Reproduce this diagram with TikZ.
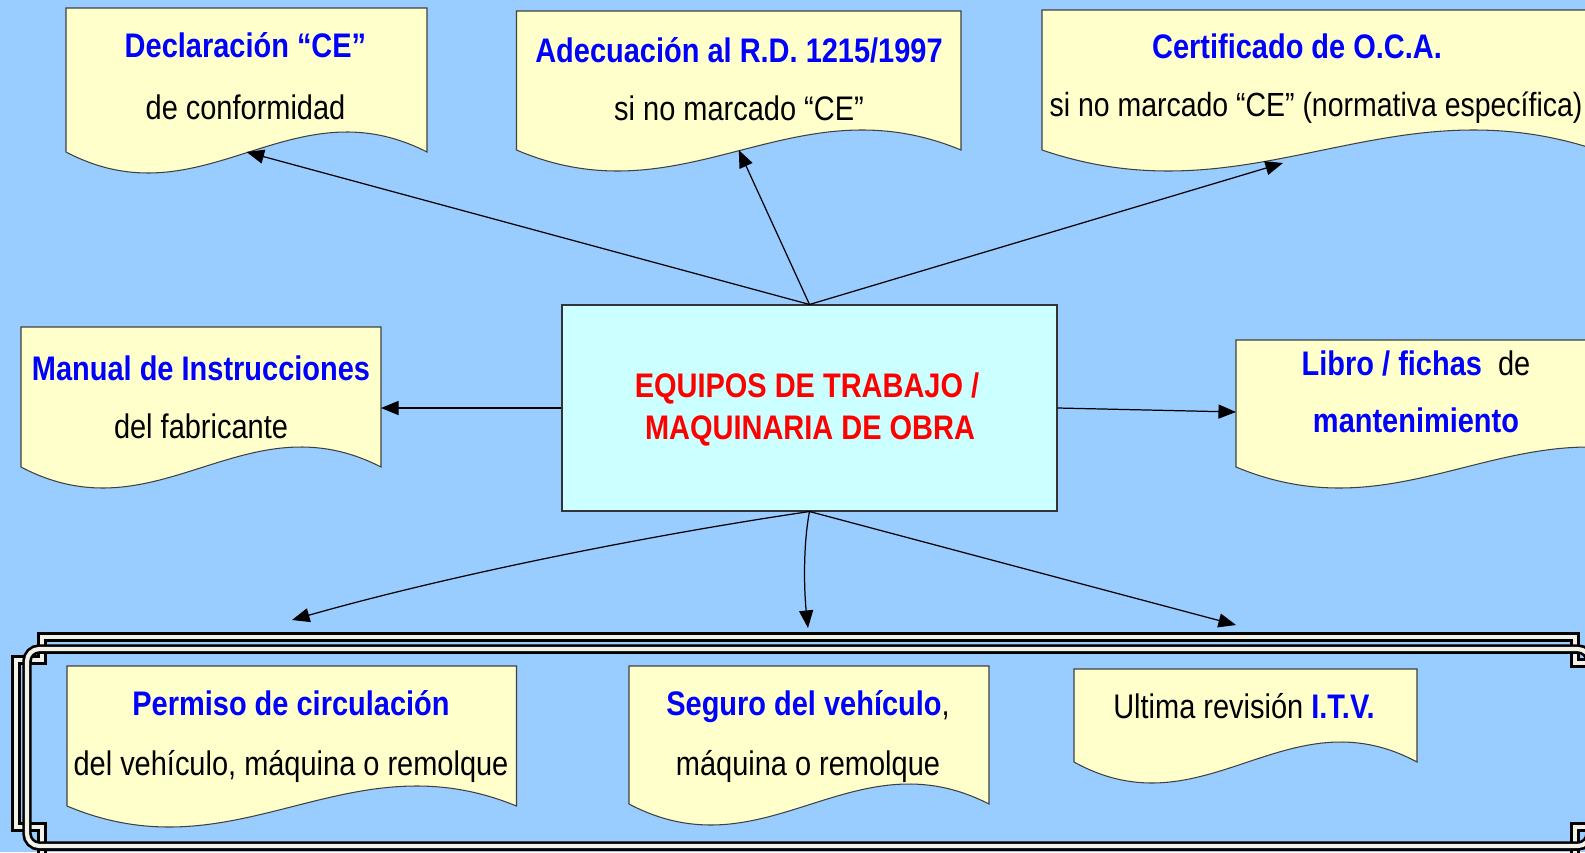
\documentclass[tikz,border=0pt]{standalone}
\usepackage{fontspec}
\setmainfont{Liberation Sans}[FakeStretch=0.85]
\usetikzlibrary{arrows.meta,calc,fit}
\definecolor{bg}{HTML}{99CCFF}
\definecolor{docy}{HTML}{FFFFCC}
\definecolor{cboxc}{HTML}{CCFFFF}
\definecolor{tblue}{HTML}{0000FF}
\definecolor{tred}{HTML}{FF0000}
\definecolor{fwhite}{HTML}{F2F2EA}
\newcommand\fs{\fontsize{19.4pt}{23pt}\selectfont}
\newcommand\docshape[5]{%
  \node[fit={(#2,#3) (#4,#5)}, inner sep=0pt, outer sep=0pt] (#1) {};
  \draw[docline] (#1.south west) -- (#1.north west) -- (#1.north east) -- (#1.south east)
    .. controls ($(#1.south west)!0.62!(#1.south east)+(0,-70)$) and ($(#1.south west)!0.38!(#1.south east)+(0,72)$) .. (#1.south west) -- cycle;
}
\tikzset{
  docline/.style={draw=black!75, fill=docy, line width=0.6pt},
  centerbox/.style={draw=black!80, fill=cboxc, line width=0.6pt, inner sep=0pt},
  conn/.style={draw=black, line width=0.7pt, -{Triangle[length=10pt,width=8pt]}},
  frameline/.style={draw=black, line width=1.5pt, double=fwhite, double distance=2.4pt},
  txt/.style={font=\fs, inner sep=0pt, anchor=base, text=black},
  btxt/.style={font=\fs\bfseries, inner sep=0pt, anchor=base, text=tblue},
  rtxt/.style={font=\fs\bfseries, inner sep=0pt, anchor=base, text=tred}
}
\begin{document}
\begin{tikzpicture}[x=0.02cm, y=-0.02cm]
\useasboundingbox (0,0) rectangle (1585,852);
\clip (0,0) rectangle (1585,852);
\fill[bg] (0,0) rectangle (1585,852);

% frame around bottom group
\draw[frameline] (16,660) -- (42,660) -- (42,637) -- (1575,637) -- (1575,663) -- (1601,663)
  -- (1601,827) -- (1575,827) -- (1575,860) -- (42,860) -- (42,827) -- (16,827) -- cycle;
\draw[frameline, rounded corners=7pt] (27,649) rectangle (1590,846);

% document shapes
\docshape{d1}{66}{8}{427}{152}
\docshape{d2}{516.5}{11}{961}{150}
\docshape{d3}{1042}{10}{1597}{150}
\docshape{d4}{21}{327}{381}{467}
\docshape{d5}{1236}{340}{1690}{467}
\docshape{d6}{67}{666}{516.5}{806}
\docshape{d7}{629}{666}{989}{804}
\docshape{d8}{1074}{669}{1417}{762}

% central box
\node[centerbox, fit={(562,305) (1057,511)}] (c) {};
\node[rtxt] (c1) at (807,397) {EQUIPOS DE TRABAJO /};
\node[rtxt] (c2) at (810,439) {MAQUINARIA DE OBRA};

% texts
\node[btxt] (t1a) at (245.5,57) {Declaración “CE”};
\node[txt]  (t1b) at (245.5,119) {de conformidad};
\node[btxt] (t2a) at (739,62) {Adecuación al R.D. 1215/1997};
\node[txt]  (t2b) at (739,120) {si no marcado “CE”};
\node[btxt] (t3a) at (1297,58) {Certificado de O.C.A.};
\node[txt, font=\fontsize{19.05pt}{23pt}\selectfont]  (t3b) at (1316,116) {si no marcado “CE” (normativa específica)};
\node[btxt] (t4a) at (201,380) {Manual de Instrucciones};
\node[txt]  (t4b) at (201,438) {del fabricante};
\node[txt]  (t5a) at (1416,375) {\textbf{\color{tblue}Libro / fichas}\ \ de};
\node[btxt] (t5b) at (1416,432) {mantenimiento};
\node[btxt] (t6a) at (291,715) {Permiso de circulación};
\node[txt]  (t6b) at (291,775) {del vehículo, máquina o remolque};
\node[txt]  (t7a) at (808,715) {\textbf{\color{tblue}Seguro del vehículo},};
\node[txt]  (t7b) at (808,775) {máquina o remolque};
\node[txt]  (t8a) at (1244,718) {Ultima revisión \textbf{\color{tblue}I.T.V.}};

% connector end points
\coordinate (e3) at (1283,163);
\coordinate (e5) at (1236,412);
\coordinate (e6) at (292,620);
\coordinate (e7) at (808,628);
\coordinate (e8) at (1236,625);

% connectors
\draw[conn] (c.north) -- (d1.south);
\draw[conn] (c.north) -- (d2.south);
\draw[conn] (c.north) -- (e3);
\draw[conn] (c.west) -- (c.west -| d4.east);
\draw[conn] (c.east) -- (e5);
\draw[conn] (c.south) .. controls (650,535) and (450,575) .. (e6);
\draw[conn] (c.south) .. controls (803,545) and (804,590) .. (e7);
\draw[conn] (c.south) -- (e8);
\end{tikzpicture}
\end{document}
